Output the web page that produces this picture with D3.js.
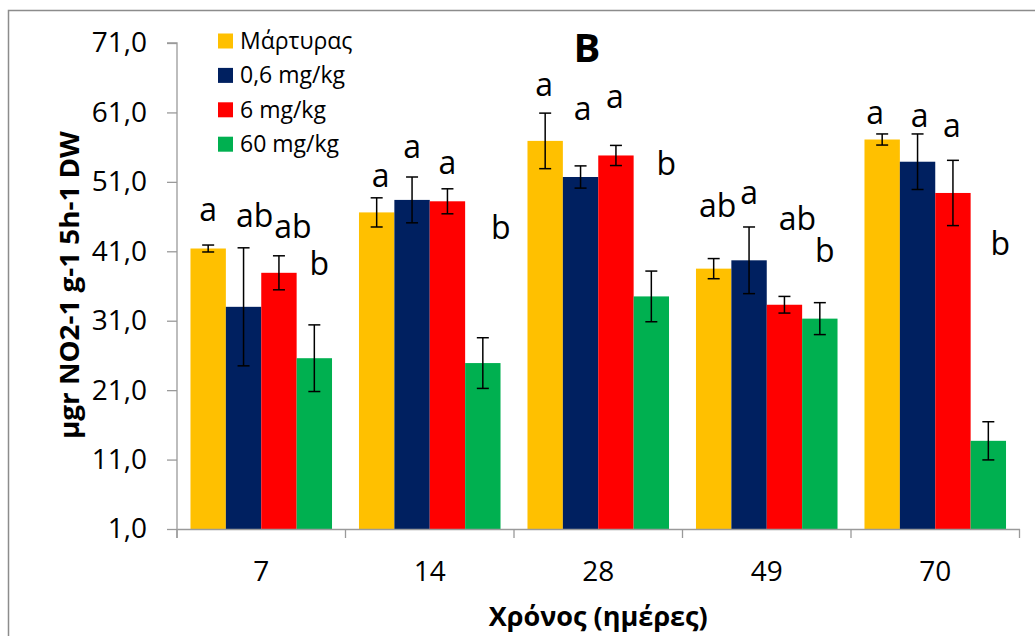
<!DOCTYPE html>
<html>
<head>
<meta charset="utf-8">
<script src="https://cdn.jsdelivr.net/npm/d3@7"></script>
<style>
html,body{margin:0;padding:0;background:#fff;}
svg{display:block;font-family:"Open Sans","Noto Sans",sans-serif;}
</style>
</head>
<body>
<svg id="chart" width="1035" height="636"></svg>
<script>
// ---- data ----
const categories = ["7", "14", "28", "49", "70"];
const seriesNames = ["Μάρτυρας", "0,6 mg/kg", "6 mg/kg", "60 mg/kg"];
const seriesColors = ["#FFC000", "#002060", "#FF0000", "#00B050"];
const valMartyras = [41.4, 46.6, 56.9, 38.5, 57.1];
const val06 = [33.0, 48.4, 51.7, 39.7, 53.9];
const val6 = [37.9, 48.2, 54.8, 33.3, 49.4];
const val60 = [25.6, 24.9, 34.5, 31.3, 13.7];
const errMartyras = [0.5, 2.1, 4.0, 1.45, 0.8];
const err06 = [8.5, 3.3, 1.6, 4.8, 4.0];
const err6 = [2.45, 1.8, 1.45, 1.2, 4.7];
const err60 = [4.8, 3.65, 3.65, 2.3, 2.75];
const letters = [["a","ab","ab","b"],["a","a","a","b"],["a","a","a","b"],["ab","a","ab","b"],["a","a","a","b"]];
const letterY = [[45.4,44.5,42.9,37.6],[50.3,54.5,52.2,42.8],[63.3,59.9,61.6,52.0],[45.9,47.8,44.1,39.5],[59.4,58.9,57.5,40.5]];
const letterDx = [[0,11,14,5],[4,0,0,18],[-1,2,-1,15],[4,0,13,5],[-7,2,-1,12]];
const yTicks = [1, 11, 21, 31, 41, 51, 61, 71];
const chartTitle = "B";
const xTitle = "Χρόνος (ημέρες)";
const yTitle = "µgr NO2-1 g-1 5h-1 DW";

const values = [valMartyras, val06, val6, val60];
const errors = [errMartyras, err06, err6, err60];

// ---- layout ----
const svg = d3.select("#chart");
const plotL = 177, plotR = 1019.5, plotT = 43, plotB = 529;
const axisColor = "#9a9a9a";

// outer chart border
svg.append("rect").attr("x", 8.5).attr("y", 10.5).attr("width", 1100).attr("height", 700)
  .attr("fill", "none").attr("stroke", "#8c8c8c").attr("stroke-width", 1.5);

const y = d3.scaleLinear().domain([1, 71]).range([plotB, plotT]);
const x0 = d3.scaleBand().domain(categories).range([plotL, plotR]).paddingInner(0).paddingOuter(0);
const gap = x0.bandwidth() * 0.08;
const x1 = d3.scaleBand().domain(d3.range(seriesNames.length)).range([gap, x0.bandwidth() - gap]).padding(0);

const fmt = v => d3.format(".1f")(v).replace(".", ",");

// bars
const groups = svg.append("g").selectAll("g").data(categories).join("g")
  .attr("transform", d => `translate(${x0(d)},0)`);

groups.each(function(cat, ci) {
  const g = d3.select(this);
  seriesNames.forEach((s, si) => {
    const v = values[si][ci];
    g.append("rect")
      .attr("x", x1(si)).attr("width", x1.bandwidth())
      .attr("y", y(v)).attr("height", y(1) - y(v))
      .attr("fill", seriesColors[si]);
  });
  seriesNames.forEach((s, si) => {
    const v = values[si][ci], e = errors[si][ci];
    const cx = x1(si) + x1.bandwidth() / 2;
    const eg = g.append("g").attr("stroke", "#000").attr("stroke-width", 1.5);
    eg.append("line").attr("x1", cx).attr("x2", cx).attr("y1", y(v + e)).attr("y2", y(v - e));
    eg.append("line").attr("x1", cx - 6).attr("x2", cx + 6).attr("y1", y(v + e)).attr("y2", y(v + e));
    eg.append("line").attr("x1", cx - 6).attr("x2", cx + 6).attr("y1", y(v - e)).attr("y2", y(v - e));
    g.append("text")
      .attr("x", cx + letterDx[ci][si]).attr("y", y(letterY[ci][si]))
      .attr("text-anchor", "middle").attr("font-size", 32).attr("fill", "#000")
      .text(letters[ci][si]);
  });
});

// y axis
const yAxis = d3.axisLeft(y).tickValues(yTicks).tickFormat(fmt).tickSize(10).tickPadding(20);
const ya = svg.append("g").attr("transform", `translate(${plotL},0)`).call(yAxis);
ya.select(".domain").attr("stroke", axisColor).attr("stroke-width", 1.3).attr("d", `M-10,${plotT}H0V${plotB + 9}`);
ya.selectAll(".tick line").attr("stroke", axisColor).attr("stroke-width", 1.3);
ya.selectAll(".tick text").attr("font-size", 28).attr("fill", "#000").attr("font-family", "'Open Sans'");

// x axis
const xAxis = d3.axisBottom(x0).tickSize(0).tickPadding(32);
const xa = svg.append("g").attr("transform", `translate(0,${plotB})`).call(xAxis);
xa.select(".domain").attr("stroke", axisColor).attr("stroke-width", 1.3);
xa.selectAll(".tick text").attr("font-size", 28).attr("fill", "#000").attr("font-family", "'Open Sans'");
const bounds = categories.map(c => x0(c)).concat([x0(categories[categories.length - 1]) + x0.bandwidth()]);
xa.selectAll("line.bound").data(bounds).join("line").attr("class", "bound")
  .attr("x1", d => d).attr("x2", d => d).attr("y1", 0).attr("y2", 9)
  .attr("stroke", axisColor).attr("stroke-width", 1.3);

// titles
svg.append("text").attr("x", 587).attr("y", 61.5).attr("text-anchor", "middle")
  .attr("font-size", 40).attr("font-weight", "bold").text(chartTitle);
svg.append("text").attr("x", (plotL + plotR) / 2).attr("y", 626).attr("text-anchor", "middle")
  .attr("font-size", 26).attr("font-weight", "bold").attr("textLength", 219).attr("lengthAdjust", "spacingAndGlyphs").text(xTitle);
svg.append("text").attr("transform", `translate(79,${(plotT + plotB) / 2 - 1}) rotate(-90)`).attr("text-anchor", "middle")
  .attr("font-size", 27).attr("font-weight", "bold").attr("textLength", 308).attr("lengthAdjust", "spacingAndGlyphs").text(yTitle);

// legend
const legend = svg.append("g").selectAll("g").data(seriesNames).join("g")
  .attr("transform", (d, i) => `translate(218,${41 + i * 34.4})`);
legend.append("rect").attr("x", 0).attr("y", -7.5).attr("width", 15).attr("height", 15)
  .attr("fill", (d, i) => seriesColors[i]);
legend.append("text").attr("x", 22).attr("y", 0).attr("dy", "0.35em")
  .attr("font-size", 23).attr("fill", "#000").text(d => d);
</script>
</body>
</html>
